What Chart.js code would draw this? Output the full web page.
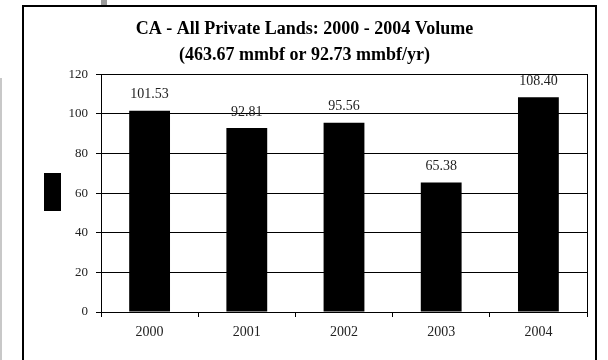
<!DOCTYPE html>
<html>
<head>
<meta charset="utf-8">
<script src="https://cdn.jsdelivr.net/npm/chart.js@4/dist/chart.umd.min.js"></script>
<style>
    html, body { margin: 0; padding: 0; background: #fff; }
    #wrap { width: 608px; height: 360px; position: relative; }
</style>
</head>
<body>
<div id="wrap"><canvas id="volChart" width="608" height="360"></canvas></div>
<script>
const years = ['2000', '2001', '2002', '2003', '2004'];
const volumes = [101.53, 92.81, 95.56, 65.38, 108.40];
const titleLines = ['CA - All Private Lands: 2000 - 2004 Volume', '(463.67 mmbf or 92.73 mmbf/yr)'];

const serif = '"Liberation Serif", "Times New Roman", serif';

// page frame, background bits and the lone legend swatch
const framePlugin = {
    id: 'frame',
    beforeDraw(chart) {
        const ctx = chart.ctx;
        ctx.save();
        ctx.fillStyle = '#fff';
        ctx.fillRect(0, 0, chart.width, chart.height);
        ctx.fillStyle = '#c8c8c8';
        ctx.fillRect(0, 78, 2, 282);
        ctx.fillStyle = '#9a9a9a';
        ctx.fillRect(101, 0, 6, 5);
        ctx.restore();
    },
    afterDraw(chart) {
        const ctx = chart.ctx;
        const area = chart.chartArea;
        ctx.save();
        ctx.strokeStyle = '#000';
        ctx.lineWidth = 2;
        ctx.strokeRect(23, 6, 573, 400);
        ctx.lineWidth = 1;
        ctx.strokeRect(Math.round(area.left) + 0.5, Math.round(area.top) + 0.5,
            Math.round(area.right - area.left), Math.round(area.bottom - area.top));
        ctx.fillStyle = chart.data.datasets[0].backgroundColor;
        ctx.fillRect(44, 173, 17, 38);
        ctx.restore();
    }
};

// value labels above each bar
const valueLabels = {
    id: 'valueLabels',
    afterDatasetsDraw(chart) {
        const ctx = chart.ctx;
        const meta = chart.getDatasetMeta(0);
        ctx.save();
        ctx.font = '14px ' + serif;
        ctx.fillStyle = '#222';
        ctx.textAlign = 'center';
        ctx.textBaseline = 'middle';
        meta.data.forEach(function (bar, i) {
            ctx.fillText(volumes[i].toFixed(2), bar.x, bar.y - 16);
        });
        ctx.restore();
    }
};

new Chart(document.querySelector('#volChart'), {
    type: 'bar',
    data: {
        labels: years,
        datasets: [{
            data: volumes,
            backgroundColor: '#000',
            borderWidth: 0,
            barPercentage: 0.42,
            categoryPercentage: 1
        }]
    },
    options: {
        responsive: false,
        animation: false,
        layout: { padding: { left: 22, right: 21, top: 0, bottom: 0 } },
        plugins: {
            legend: { display: false },
            tooltip: { enabled: false },
            title: {
                display: true,
                text: titleLines,
                color: '#000',
                font: { family: serif, size: 18, weight: 'bold', lineHeight: 1.45 },
                padding: { top: 16, bottom: 6 }
            }
        },
        scales: {
            x: {
                afterFit: function (scale) { scale.height = 48; },
                grid: {
                    offset: true,
                    drawOnChartArea: false,
                    drawTicks: true,
                    tickLength: 5,
                    color: '#000'
                },
                border: { display: true, color: '#000' },
                ticks: {
                    color: '#222',
                    padding: 7,
                    font: { family: serif, size: 14 }
                }
            },
            y: {
                min: 0,
                max: 120,
                afterFit: function (scale) { scale.width = 79; },
                grid: {
                    color: '#000',
                    tickLength: 5
                },
                border: { display: true, color: '#000' },
                ticks: {
                    stepSize: 20,
                    color: '#222',
                    padding: 8,
                    font: { family: serif, size: 13 }
                }
            }
        }
    },
    plugins: [framePlugin, valueLabels]
});
</script>
</body>
</html>
